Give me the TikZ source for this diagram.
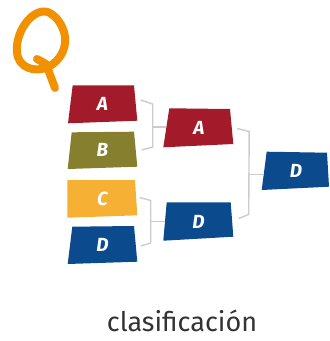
\documentclass[tikz,border=0pt]{standalone}
\usepackage{fontspec}
\setmainfont{Fira Sans}
\usepackage{tikz}
\usetikzlibrary{calc}

\definecolor{teamred}{HTML}{A31A2A}
\definecolor{teamolive}{HTML}{857F2E}
\definecolor{teamyellow}{HTML}{F6B034}
\definecolor{teamblue}{HTML}{0C4A8E}
\definecolor{qorange}{HTML}{F29100}
\definecolor{bracketgray}{HTML}{CCCCCC}
\definecolor{textgray}{HTML}{333333}

\tikzset{
  teamlabel/.style={text=white, font=\fontsize{19}{19}\selectfont\bfseries\itshape,
    minimum width=66pt, minimum height=37pt, inner sep=0pt},
  bracket/.style={draw=bracketgray, line width=1.4pt},
}

\begin{document}
\begin{tikzpicture}[x=1pt,y=-1pt]
    \useasboundingbox (0,0) rectangle (330,341);
    % Hand drawn Q
    \draw[qorange, line width=8pt, line cap=round, line join=round]
        (50,13) .. controls (35,5) and (15,30) .. (17,52)
        .. controls (18,68) and (35,73) .. (48,67)
        .. controls (62,60) and (68,45) .. (64,32)
        .. controls (61,22) and (55,16) .. (50,13);
    \draw[qorange, line width=8pt, line cap=round, line join=round]
        (37,59) -- (46,64) .. controls (49,72) and (52,80) .. (55,88);

    % First round
    \fill[teamred] (72.7,85.3) -- (134,85.3) -- (137.3,120.7) -- (68,123.3) -- cycle;
    \node[teamlabel] (a1) at (102.5,104) {A};
    \fill[teamolive] (71.7,132.3) -- (134,131.7) -- (137.3,166.7) -- (67.7,169) -- cycle;
    \node[teamlabel] (b1) at (102.5,150) {B};
    \fill[teamyellow] (67.3,180) -- (135,180) -- (137.3,215.3) -- (67.3,217.7) -- cycle;
    \node[teamlabel] (c1) at (102.5,198.5) {C};
    \fill[teamblue] (72.3,226.7) -- (134,226) -- (137.3,261.7) -- (67.7,264) -- cycle;
    \node[teamlabel] (d1) at (102.5,245) {D};

    % Second round
    \fill[teamred] (169.3,108.3) -- (230,109) -- (233.3,144) -- (163.3,147.3) -- cycle;
    \node[teamlabel] (a2) at (199,127.5) {A};
    \fill[teamblue] (166.7,202.3) -- (230.7,202.3) -- (233.3,236.7) -- (163.3,240.7) -- cycle;
    \node[teamlabel] (d2) at (198.5,221.5) {D};

    % Final
    \fill[teamblue] (266.7,151.7) -- (327,152.7) -- (329,186.7) -- (261.7,190) -- cycle;
    \node[teamlabel] (d3) at (296,170.5) {D};

    % Brackets
    \draw[bracket] ([shift={(5,-4)}]a1.east) -- ([xshift=17pt]a1.east)
        -- ([shift={(17,-3)}]b1.east) coordinate (ab) -- ([shift={(6,0)}]b1.east);
    \draw[bracket] ($(a1.east)!0.5!(b1.east)+(17,0)$) -- (a2.west |- {$(a1.east)!0.5!(b1.east)$});
    \draw[bracket] ([shift={(4,-1)}]c1.east) -- ([shift={(15,2)}]c1.east)
        -- ([shift={(15,-2)}]d1.east) -- ([shift={(5,1)}]d1.east);
    \draw[bracket] ($(c1.east)!0.5!(d1.east)+(15,0)$) -- (d2.west |- {$(c1.east)!0.5!(d1.east)$});
    \draw[bracket] ([shift={(5,1)}]a2.east) -- ([shift={(17,4)}]a2.east)
        -- ([shift={(17,-7)}]d2.east) -- ([shift={(7,-3)}]d2.east);
    \draw[bracket] ([xshift=17pt]$(a2.east)!0.5!(d2.east)$) -- (d3.west |- {$(a2.east)!0.5!(d2.east)$});

    % Caption
    \node[text=textgray, font=\fontsize{27}{27}\selectfont] (caption) at (182,321) {clasificación};
\end{tikzpicture}
\end{document}
